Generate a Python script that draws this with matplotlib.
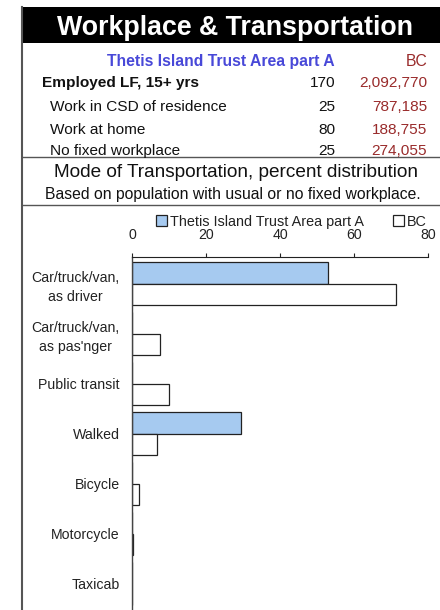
import matplotlib
matplotlib.use("Agg")
import matplotlib.pyplot as plt
from matplotlib.patches import Rectangle
from matplotlib.lines import Line2D
import numpy as np

plt.rcParams['font.family'] = ['Liberation Sans', 'DejaVu Sans']

# ---- data ----
title = "Workplace & Transportation"
area_name = "Thetis Island Trust Area part A"
bc_name = "BC"
row_labels = ["Employed LF, 15+ yrs", "Work in CSD of residence", "Work at home", "No fixed workplace"]
area_counts = ["170", "25", "80", "25"]
bc_counts = ["2,092,770", "787,185", "188,755", "274,055"]
subtitle = "Mode of Transportation, percent distribution"
subnote = "Based on population with usual or no fixed workplace."

categories = ["Car/truck/van,\nas driver", "Car/truck/van,\nas pas'nger", "Public transit",
              "Walked", "Bicycle", "Motorcycle", "Taxicab"]
area_pct = [52.9, 0.0, 0.0, 29.4, 0.0, 0.0, 0.0]
bc_pct = [71.4, 7.5, 10.1, 6.8, 2.0, 0.3, 0.0]
x_ticks = [0, 20, 40, 60, 80]

W, H = 440, 610
fig = plt.figure(figsize=(W / 100, H / 100), dpi=100)

def fx(px):
    return px / W

def fy(py):
    return 1 - py / H

# header black bar
fig.patches.append(Rectangle((fx(22), fy(43)), fx(440) - fx(22), (43 - 7) / H,
                             transform=fig.transFigure, facecolor='black', edgecolor='none', zorder=1))
fig.text(fx(235), fy(35), title, color='white', fontsize=19.3, fontweight='bold',
         ha='center', va='baseline', zorder=2)

blue = '#4848D8'
red = '#992B2B'
fig.text(fx(335), fy(65.7), area_name, color=blue, fontsize=11.3, fontweight='bold', ha='right', va='baseline')
fig.text(fx(427), fy(65.7), bc_name, color=red, fontsize=11.3, ha='right', va='baseline')

row_base = [87.3, 111, 134, 155]
row_x = [42, 50, 50, 50]
for i, lab in enumerate(row_labels):
    fw = 'bold' if i == 0 else 'normal'
    fig.text(fx(row_x[i]), fy(row_base[i]), lab, color='#111111', fontsize=11.1, fontweight=fw,
             ha='left', va='baseline')
    fig.text(fx(335), fy(row_base[i]), area_counts[i], color='#111111', fontsize=11.1,
             ha='right', va='baseline')
    fig.text(fx(427), fy(row_base[i]), bc_counts[i], color=red, fontsize=11.1,
             ha='right', va='baseline')

fig.text(fx(235.5), fy(176.7), subtitle, color='#111111', fontsize=13.7, ha='center', va='baseline')
fig.text(fx(233), fy(199), subnote, color='#111111', fontsize=11.3, ha='center', va='baseline')

# frame lines
for yy in [157, 204.5]:
    fig.lines.append(Line2D([fx(22), fx(440)], [fy(yy), fy(yy)], transform=fig.transFigure,
                            color='#555555', lw=1.0))
fig.lines.append(Line2D([fx(22), fx(22)], [fy(7), fy(610)], transform=fig.transFigure,
                        color='#555555', lw=1.5))

# ---- chart ----
ax = fig.add_axes([fx(132), 0, fx(428) - fx(132), (610 - 257) / H])
y = np.arange(len(categories))
h = 0.43
ax.barh(y - h / 2, area_pct, height=h, color='#A6CAF0', edgecolor='#222222', linewidth=0.9,
        label=area_name)
ax.barh(y + h / 2, bc_pct, height=h, color='white', edgecolor='#222222', linewidth=0.9,
        label=bc_name)
ax.set_xlim(0, 80)
ax.set_ylim(6.52, -0.53)
ax.set_yticks(y)
ax.set_yticklabels(categories, fontsize=10.2, color='#222222', multialignment='center',
                   linespacing=1.45)
ax.tick_params(axis='y', length=0, pad=9)
ax.xaxis.tick_top()
ax.set_xticks(x_ticks)
ax.set_xticklabels([str(t) for t in x_ticks], fontsize=10.2, color='#222222')
ax.tick_params(axis='x', direction='out', length=3, width=0.8, pad=8, colors='#222222')
for s in ['right', 'bottom']:
    ax.spines[s].set_visible(False)
ax.spines['top'].set_color('#222222')
ax.spines['top'].set_linewidth(0.8)
ax.spines['left'].set_color('#444444')
ax.spines['left'].set_linewidth(1.0)

leg = ax.legend(ncol=2, loc='center', bbox_to_anchor=(0.539, 1.1), frameon=False,
                fontsize=10.4, handlelength=0.75, handleheight=0.75, handletextpad=0.2,
                columnspacing=2.0, borderaxespad=0, borderpad=0)
for t in leg.get_texts():
    t.set_color('#222222')

fig.savefig("out.png", dpi=100)
